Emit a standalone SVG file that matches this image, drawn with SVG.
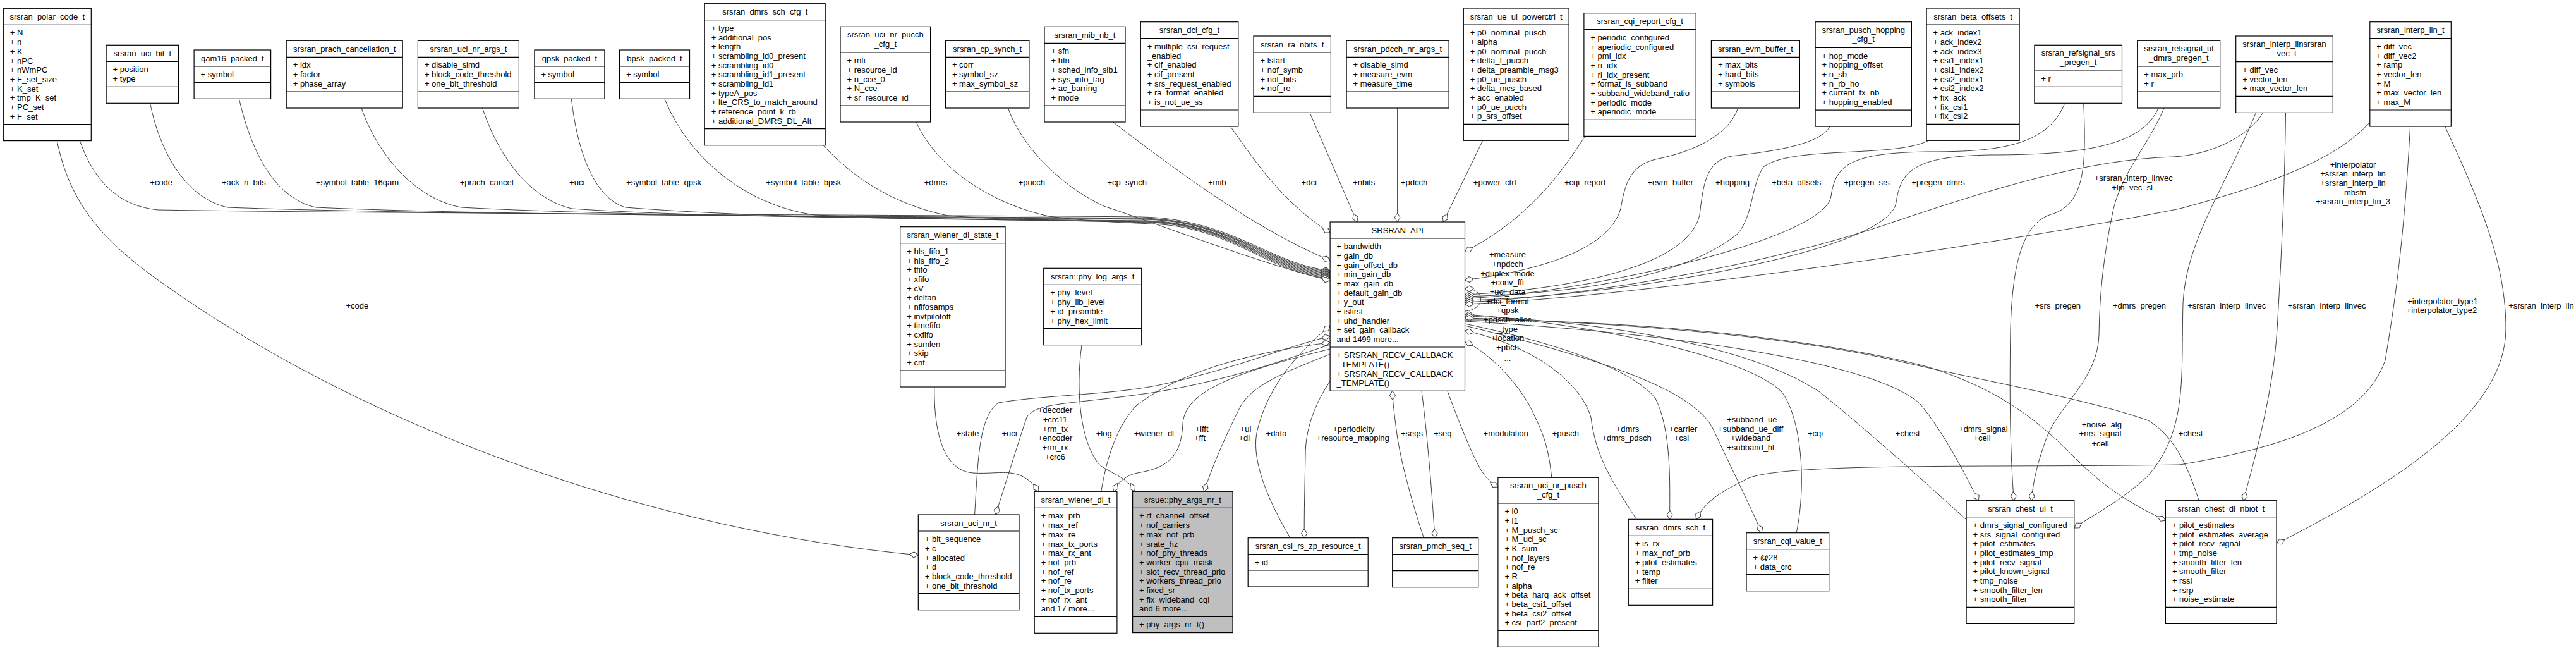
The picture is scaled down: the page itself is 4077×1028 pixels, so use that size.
<svg xmlns="http://www.w3.org/2000/svg" width="4077" height="1028" viewBox="0 0 4077 1028">
<style>
.b{fill:#fff;stroke:#000;stroke-width:1.2}
.g{fill:#bfbfbf}
.s{stroke:#000;stroke-width:1.2;fill:none}
text{font-family:"Liberation Sans",Arial,Helvetica,sans-serif;font-size:13px;fill:#000}
.c{text-anchor:middle}
.e{fill:none;stroke:#404040;stroke-width:1}
.d{marker-end:url(#dia)}
</style>
<defs>
<marker id="dia" viewBox="-16 -6 17 12" refX="0" refY="0" markerWidth="17" markerHeight="12" markerUnits="userSpaceOnUse" orient="auto">
<path d="M0,0 L-7,-4.5 L-14,0 L-7,4.5 Z" fill="#fff" stroke="#404040" stroke-width="1"/>
</marker>
</defs>
<rect width="4077" height="1028" fill="#fff"/>

<g id="connectors">
<path class="e d" d="M126.3,222.6 C150,290 190,326 250,332 C600,338 1500,340 1806,343 C1950,346 2010,418 2105.1,428"/>
<path class="e d" d="M237.6,163.3 C255,250 300,315 360,328 C700,341 1500,342 1808,345 C1950,348 2010,420 2105.1,429.5"/>
<path class="e d" d="M378.4,156.3 C400,250 440,315 500,328 C800,342 1500,343 1810,346 C1950,349 2010,422 2105.1,431"/>
<path class="e d" d="M572,171 C600,250 660,315 730,328 C1000,343 1500,344 1812,347 C1950,350 2010,424 2105.1,432.5"/>
<path class="e d" d="M763.6,171 C790,250 840,315 905,330 C1100,344 1500,346 1814,349 C1950,352 2010,426 2105.1,434"/>
<path class="e d" d="M904.4,156.3 C915,250 945,315 990,328 C1200,345 1500,347 1816,350 C1950,353 2010,428 2105.1,435.5"/>
<path class="e d" d="M1051.8,156.3 C1090,250 1180,325 1290,340 C1500,348 1700,349 1818,351 C1950,354 2010,430 2105.1,437"/>
<path class="e d" d="M1303,229.7 C1340,270 1400,320 1500,341 C1600,349 1750,350 1820,352 C1950,356 2010,432 2105.1,438.5"/>
<path class="e d" d="M1450.2,193 C1480,260 1560,320 1660,342 C1720,350 1780,352 1822,354 C1950,358 2010,434 2105.1,440"/>
<path class="e d" d="M1595.4,171 C1620,240 1690,300 1747,326 C1850,360 1980,412 2105.1,444"/>
<path class="e d" d="M1761.3,193 C1850,260 1980,360 2105.1,412"/>
<path class="e d" d="M1947.4,200 C1990,260 2030,320 2105.1,368"/>
<path class="e d" d="M2073,178.3 L2147.8,351"/>
<path class="e d" d="M2211.6,171 L2211.6,351"/>
<path class="e d" d="M2346.7,222.3 L2284.2,351"/>
<path class="e d" d="M2508.6,215.4 C2470,275 2420,345 2318.5,398"/>
<path class="e d" d="M2750.8,171 C2735,215 2680,240 2620,252 C2580,262 2572,290 2565,330 C2545,400 2420,430 2318.5,443"/>
<path class="e d" d="M2896,200.1 C2880,230 2800,240 2740,247 C2700,255 2696,290 2690,340 C2670,430 2450,460 2318.5,466"/>
<path class="e d" d="M3052,222.3 C3000,250 2830,230 2790,265 C2770,300 2775,340 2750,370 C2650,450 2450,465 2318.5,469"/>
<path class="e d" d="M3267.8,163.3 C3240,235 3150,240 3050,240 C2930,242 2905,260 2898,310 C2890,380 2500,465 2318.5,472"/>
<path class="e d" d="M3416,171 C3390,230 3300,245 3150,245 C3030,247 3008,270 3001,320 C2990,400 2550,470 2318.5,475"/>
<path class="e d" d="M3581.4,178.4 C3560,215 3500,245 3440,248 C3300,252 3150,300 3000,350 C2800,420 2500,470 2318.5,478"/>
<path class="e d" d="M3750.8,193.3 C3700,250 3600,290 3450,330 C3200,380 2600,470 2318.5,481"/>
<path class="e d" d="M2318.5,492 C2352,490 2352,455 2318.5,457"/>
<path class="e d" d="M2843.2,842.7 C2860,760 2850,660 2820,620 C2760,560 2500,510 2318.5,497"/>
<path class="e d" d="M3112.1,822 C3000,720 2930,660 2880,620 C2760,540 2500,505 2318.5,500"/>
<path class="e d" d="M3480.2,791.7 C3460,730 3440,690 3400,665 C3300,630 3150,605 3000,570 C2800,525 2500,508 2318.5,503"/>
<path class="e d" d="M2590,821.3 C2550,760 2525,720 2518,660 C2500,600 2420,545 2318.5,523"/>
<path class="e d" d="M2455.8,755.3 C2450,700 2440,680 2420,640 C2390,590 2350,555 2318.5,540"/>
<path class="e d" d="M2318.5,512 C2450,540 2580,580 2620,630 C2645,680 2643,760 2642.6,821.3"/>
<path class="e d" d="M2318.5,515 C2500,560 2680,610 2712,680 C2740,740 2770,800 2788.2,842.7"/>
<path class="e d" d="M2318.5,508 C2700,530 2980,580 3040,640 C3080,690 3110,750 3131.4,791.7"/>
<path class="e d" d="M2318.5,506 C2600,505 2900,540 3050,580 C3180,620 3240,680 3290,730 C3340,780 3390,805 3427.4,823.3"/>
<path class="e d" d="M90.2,222.6 C110,320 160,380 260,450 C600,690 1050,840 1453.3,878"/>
<path class="e d" d="M1478.8,612 C1478,700 1500,745 1540,748 C1585,751 1615,735 1643.8,777.3"/>
<path class="e d" d="M1542.6,814 C1548,720 1550,660 1580,637 C1650,625 1750,625 1830,610 C1950,585 2030,550 2105.1,531.7"/>
<path class="e d" d="M2105.1,545 C2030,570 1950,600 1830,620 C1700,640 1640,635 1625,660 C1605,720 1590,770 1575.6,814"/>
<path class="e d" d="M1742.8,777.3 C1752,720 1770,670 1800,640 C1880,580 2000,555 2105.1,541.7"/>
<path class="e d" d="M2105.1,552 C1950,590 1875,620 1872,670 C1870,720 1850,740 1800,748 C1780,752 1768,765 1762.6,777.3"/>
<path class="e d" d="M1712,545.6 C1702,620 1710,700 1740,735 C1760,750 1785,755 1795.6,777.3"/>
<path class="e d" d="M2105.1,560 C2030,590 1980,610 1962,645 C1945,680 1925,720 1905.6,777.3"/>
<path class="e d" d="M2042,850.7 C2000,780 1980,720 1990,680 C2005,620 2040,570 2105.1,515"/>
<path class="e d" d="M2105.1,603 C2080,640 2066,680 2066,720 C2065,770 2064,810 2064.2,850.7"/>
<path class="e d" d="M2253.4,850.7 C2230,780 2215,720 2210,680 C2206,650 2204,630 2203.7,618.3"/>
<path class="e d" d="M2250,618.3 C2258,680 2265,760 2271,850.7"/>
<path class="e d" d="M2290.8,618.3 C2310,670 2330,720 2345,745 C2355,760 2362,765 2370.9,770"/>
<path class="e d" d="M3814.6,200 C3805,380 3790,480 3775,570 C3740,670 3600,710 3450,735 C3150,740 2800,730 2760,760 C2730,775 2700,790 2684.6,821.3"/>
<path class="e d" d="M3869.6,200 C3930,330 3966,420 3966,520 C3966,650 3800,760 3603,860"/>
<path class="e d" d="M3617.5,178.4 C3616,300 3610,420 3604,520 C3598,620 3570,720 3550.6,791.7"/>
<path class="e d" d="M3570.4,178.4 C3520,300 3460,380 3455,480 C3452,600 3462,680 3400,752 C3360,790 3320,810 3282.8,835"/>
<path class="e d" d="M3297.7,163.3 C3302,260 3300,320 3250,338 C3200,350 3185,420 3182,520 C3180,640 3182,720 3187.3,791.7"/>
<path class="e d" d="M3425,171 C3400,230 3360,270 3345,330 C3330,400 3323,460 3322,530 C3320,600 3260,640 3240,690 C3225,730 3218,760 3215,791.7"/>

<g class="c">
<text x="255.2" y="293.2">+code</text>
<text x="385.9" y="293.2">+ack_ri_bits</text>
<text x="565.4" y="293.2">+symbol_table_16qam</text>
<text x="770.2" y="293.2">+prach_cancel</text>
<text x="913.2" y="293.2">+uci</text>
<text x="1050.5" y="293.2">+symbol_table_qpsk</text>
<text x="1271.8" y="293.2">+symbol_table_bpsk</text>
<text x="1481" y="293.2">+dmrs</text>
<text x="1632.8" y="293.2">+pucch</text>
<text x="1783.7" y="293.2">+cp_synch</text>
<text x="1926.3" y="293.2">+mib</text>
<text x="2071.7" y="293.2">+dci</text>
<text x="2158.8" y="293.2">+nbits</text>
<text x="2238" y="293.2">+pdcch</text>
<text x="2365.6" y="293.2">+power_ctrl</text>
<text x="2508.6" y="293.2">+cqi_report</text>
<text x="2643.7" y="293.2">+evm_buffer</text>
<text x="2742" y="293.2">+hopping</text>
<text x="2843.2" y="293.2">+beta_offsets</text>
<text x="2954.5" y="293.2">+pregen_srs</text>
<text x="3067.6" y="293.2">+pregen_dmrs</text>
<text x="3376.7" y="286.2">+srsran_interp_linvec</text>
<text x="3374.6" y="301.2">+lin_vec_sl</text>
<text x="3724" y="264.5">+interpolator</text>
<text x="3724" y="279.2">+srsran_interp_lin</text>
<text x="3724" y="293.8">+srsran_interp_lin</text>
<text x="3724" y="308.5">_mbsfn</text>
<text x="3724" y="323.2">+srsran_interp_lin_3</text>
<text x="565.4" y="487.8">+code</text>
<text x="3256.8" y="487.8">+srs_pregen</text>
<text x="3386" y="487.8">+dmrs_pregen</text>
<text x="3524.2" y="487.8">+srsran_interp_linvec</text>
<text x="3682.6" y="487.8">+srsran_interp_linvec</text>
<text x="3866" y="481.2">+interpolator_type1</text>
<text x="3864.4" y="495.2">+interpolator_type2</text>
<text x="4022" y="487.8">+srsran_interp_lin</text>
<text x="2386" y="407.2">+measure</text>
<text x="2386" y="421.8">+npdcch</text>
<text x="2386" y="436.8">+duplex_mode</text>
<text x="2386" y="451.2">+conv_fft</text>
<text x="2386" y="466.2">+uci_data</text>
<text x="2386" y="481.2">+dci_format</text>
<text x="2386" y="495.2">+qpsk</text>
<text x="2386" y="510.2">+pdsch_alloc</text>
<text x="2386" y="525.2">_type</text>
<text x="2386" y="539.2">+location</text>
<text x="2386" y="554.2">+pbch</text>
<text x="2386" y="571.2">...</text>
<text x="1531.6" y="690.2">+state</text>
<text x="1597.6" y="690.2">+uci</text>
<text x="1670" y="652.8">+decoder</text>
<text x="1670" y="667.8">+crc11</text>
<text x="1670" y="682.8">+rm_tx</text>
<text x="1670" y="697.2">+encoder</text>
<text x="1670" y="712.2">+rm_rx</text>
<text x="1670" y="727.2">+crc6</text>
<text x="1747.2" y="690.2">+log</text>
<text x="1826.4" y="690.2">+wiener_dl</text>
<text x="1902" y="682.8">+ifft</text>
<text x="1899" y="697.2">+fft</text>
<text x="1971.6" y="682.8">+ul</text>
<text x="1969.4" y="697.2">+dl</text>
<text x="2020" y="690.2">+data</text>
<text x="2142.5" y="682.8">+periodicity</text>
<text x="2141.2" y="697.2">+resource_mapping</text>
<text x="2234.5" y="690.2">+seqs</text>
<text x="2283.3" y="690.2">+seq</text>
<text x="2383.2" y="690.2">+modulation</text>
<text x="2477.8" y="690.2">+pusch</text>
<text x="2576" y="682.8">+dmrs</text>
<text x="2574.6" y="697.2">+dmrs_pdsch</text>
<text x="2664" y="682.8">+carrier</text>
<text x="2661.3" y="697.2">+csi</text>
<text x="2772.8" y="667.8">+subband_ue</text>
<text x="2770.6" y="682.8">+subband_ue_diff</text>
<text x="2770.6" y="697.2">+wideband</text>
<text x="2770.6" y="712.2">+subband_hl</text>
<text x="2873.1" y="690.2">+cqi</text>
<text x="3019.2" y="690.2">+chest</text>
<text x="3138.9" y="682.8">+dmrs_signal</text>
<text x="3137.1" y="697.2">+cell</text>
<text x="3326.3" y="675.5">+noise_alg</text>
<text x="3324" y="690.2">+nrs_signal</text>
<text x="3324" y="705.5">+cell</text>
<text x="3467" y="690.2">+chest</text>
</g>
</g>

<g id="n_polar" transform="translate(5.3,13.3)"><rect class="b" width="139" height="209.3"/><path class="s" d="M0,26H139M0,183.3H139"/><text class="c" x="69.5" y="17.5">srsran_polar_code_t</text>
<text y="43.2"><tspan x="10.5">+ N</tspan><tspan x="10.5" dy="14.67">+ n</tspan><tspan x="10.5" dy="14.67">+ K</tspan><tspan x="10.5" dy="14.67">+ nPC</tspan><tspan x="10.5" dy="14.67">+ nWmPC</tspan><tspan x="10.5" dy="14.67">+ F_set_size</tspan><tspan x="10.5" dy="14.67">+ K_set</tspan><tspan x="10.5" dy="14.67">+ tmp_K_set</tspan><tspan x="10.5" dy="14.67">+ PC_set</tspan><tspan x="10.5" dy="14.67">+ F_set</tspan></text></g>

<g id="n_uci_bit" transform="translate(168.1,71.3)"><rect class="b" width="114.4" height="92"/><path class="s" d="M0,26H114.4M0,66H114.4"/><text class="c" x="57.2" y="17.5">srsran_uci_bit_t</text>
<text y="43.2"><tspan x="10.5">+ position</tspan><tspan x="10.5" dy="14.67">+ type</tspan></text></g>

<g id="n_qam16" transform="translate(307.1,79)"><rect class="b" width="121.5" height="77.3"/><path class="s" d="M0,26H121.5M0,51.3H121.5"/><text class="c" x="60.75" y="17.5">qam16_packed_t</text>
<text x="10.5" y="43.2">+ symbol</text></g>

<g id="n_prach" transform="translate(453.2,64.3)"><rect class="b" width="184" height="106.7"/><path class="s" d="M0,26H184M0,80.7H184"/><text class="c" x="92" y="17.5">srsran_prach_cancellation_t</text>
<text y="43.2"><tspan x="10.5">+ idx</tspan><tspan x="10.5" dy="14.67">+ factor</tspan><tspan x="10.5" dy="14.67">+ phase_array</tspan></text></g>

<g id="n_uci_nr_args" transform="translate(661.4,64.3)"><rect class="b" width="160" height="106.7"/><path class="s" d="M0,26H160M0,80.7H160"/><text class="c" x="80" y="17.5">srsran_uci_nr_args_t</text>
<text y="43.2"><tspan x="10.5">+ disable_simd</tspan><tspan x="10.5" dy="14.67">+ block_code_threshold</tspan><tspan x="10.5" dy="14.67">+ one_bit_threshold</tspan></text></g>

<g id="n_qpsk" transform="translate(845.9,79)"><rect class="b" width="111" height="77.3"/><path class="s" d="M0,26H111M0,51.3H111"/><text class="c" x="55.5" y="17.5">qpsk_packed_t</text>
<text x="10.5" y="43.2">+ symbol</text></g>

<g id="n_bpsk" transform="translate(980.5,79)"><rect class="b" width="111" height="77.3"/><path class="s" d="M0,26H111M0,51.3H111"/><text class="c" x="55.5" y="17.5">bpsk_packed_t</text>
<text x="10.5" y="43.2">+ symbol</text></g>

<g id="n_dmrs_sch_cfg" transform="translate(1115.2,5.7)"><rect class="b" width="191" height="224"/><path class="s" d="M0,26H191M0,198H191"/><text class="c" x="95.5" y="17.5">srsran_dmrs_sch_cfg_t</text>
<text y="43.2"><tspan x="10.5">+ type</tspan><tspan x="10.5" dy="14.67">+ additional_pos</tspan><tspan x="10.5" dy="14.67">+ length</tspan><tspan x="10.5" dy="14.67">+ scrambling_id0_present</tspan><tspan x="10.5" dy="14.67">+ scrambling_id0</tspan><tspan x="10.5" dy="14.67">+ scrambling_id1_present</tspan><tspan x="10.5" dy="14.67">+ scrambling_id1</tspan><tspan x="10.5" dy="14.67">+ typeA_pos</tspan><tspan x="10.5" dy="14.67">+ lte_CRS_to_match_around</tspan><tspan x="10.5" dy="14.67">+ reference_point_k_rb</tspan><tspan x="10.5" dy="14.67">+ additional_DMRS_DL_Alt</tspan></text></g>

<g id="n_pucch_cfg" transform="translate(1330,42.3)"><rect class="b" width="142.6" height="150.7"/><path class="s" d="M0,40.7H142.6M0,124.7H142.6"/><text class="c" x="71.3" y="17">srsran_uci_nr_pucch</text><text class="c" x="71.3" y="31.5">_cfg_t</text>
<text y="57.9"><tspan x="10.5">+ rnti</tspan><tspan x="10.5" dy="14.67">+ resource_id</tspan><tspan x="10.5" dy="14.67">+ n_cce_0</tspan><tspan x="10.5" dy="14.67">+ N_cce</tspan><tspan x="10.5" dy="14.67">+ sr_resource_id</tspan></text></g>

<g id="n_cp_synch" transform="translate(1496.4,64.3)"><rect class="b" width="132.5" height="106.7"/><path class="s" d="M0,26H132.5M0,80.7H132.5"/><text class="c" x="66.25" y="17.5">srsran_cp_synch_t</text>
<text y="43.2"><tspan x="10.5">+ corr</tspan><tspan x="10.5" dy="14.67">+ symbol_sz</tspan><tspan x="10.5" dy="14.67">+ max_symbol_sz</tspan></text></g>

<g id="n_mib_nb" transform="translate(1653,42.3)"><rect class="b" width="128" height="150.7"/><path class="s" d="M0,26H128M0,124.7H128"/><text class="c" x="64" y="17.5">srsran_mib_nb_t</text>
<text y="43.2"><tspan x="10.5">+ sfn</tspan><tspan x="10.5" dy="14.67">+ hfn</tspan><tspan x="10.5" dy="14.67">+ sched_info_sib1</tspan><tspan x="10.5" dy="14.67">+ sys_info_tag</tspan><tspan x="10.5" dy="14.67">+ ac_barring</tspan><tspan x="10.5" dy="14.67">+ mode</tspan></text></g>

<g id="n_dci_cfg" transform="translate(1805.3,34.7)"><rect class="b" width="154.5" height="165.3"/><path class="s" d="M0,26H154.5M0,139.3H154.5"/><text class="c" x="77.25" y="17.5">srsran_dci_cfg_t</text>
<text y="43.2"><tspan x="10.5">+ multiple_csi_request</tspan><tspan x="10.5" dy="14.67">_enabled</tspan><tspan x="10.5" dy="14.67">+ cif_enabled</tspan><tspan x="10.5" dy="14.67">+ cif_present</tspan><tspan x="10.5" dy="14.67">+ srs_request_enabled</tspan><tspan x="10.5" dy="14.67">+ ra_format_enabled</tspan><tspan x="10.5" dy="14.67">+ is_not_ue_ss</tspan></text></g>

<g id="n_wiener_state" transform="translate(1424.7,358.7)"><rect class="b" width="166.3" height="253.3"/><path class="s" d="M0,26H166.3M0,227.3H166.3"/><text class="c" x="83.15" y="17.5">srsran_wiener_dl_state_t</text>
<text y="43.2"><tspan x="10.5">+ hls_fifo_1</tspan><tspan x="10.5" dy="14.67">+ hls_fifo_2</tspan><tspan x="10.5" dy="14.67">+ tfifo</tspan><tspan x="10.5" dy="14.67">+ xfifo</tspan><tspan x="10.5" dy="14.67">+ cV</tspan><tspan x="10.5" dy="14.67">+ deltan</tspan><tspan x="10.5" dy="14.67">+ nfifosamps</tspan><tspan x="10.5" dy="14.67">+ invtpilotoff</tspan><tspan x="10.5" dy="14.67">+ timefifo</tspan><tspan x="10.5" dy="14.67">+ cxfifo</tspan><tspan x="10.5" dy="14.67">+ sumlen</tspan><tspan x="10.5" dy="14.67">+ skip</tspan><tspan x="10.5" dy="14.67">+ cnt</tspan></text></g>

<g id="n_phy_log" transform="translate(1651.7,424.3)"><rect class="b" width="155" height="121.3"/><path class="s" d="M0,26H155M0,95.3H155"/><text class="c" x="77.5" y="17.5">srsran::phy_log_args_t</text>
<text y="43.2"><tspan x="10.5">+ phy_level</tspan><tspan x="10.5" dy="14.67">+ phy_lib_level</tspan><tspan x="10.5" dy="14.67">+ id_preamble</tspan><tspan x="10.5" dy="14.67">+ phy_hex_limit</tspan></text></g>

<g id="n_ra_nbits" transform="translate(1984,57)"><rect class="b" width="122.4" height="121.3"/><path class="s" d="M0,26H122.4M0,95.3H122.4"/><text class="c" x="61.2" y="17.5">srsran_ra_nbits_t</text>
<text y="43.2"><tspan x="10.5">+ lstart</tspan><tspan x="10.5" dy="14.67">+ nof_symb</tspan><tspan x="10.5" dy="14.67">+ nof_bits</tspan><tspan x="10.5" dy="14.67">+ nof_re</tspan></text></g>

<g id="n_pdcch_args" transform="translate(2131.1,64.3)"><rect class="b" width="162" height="106.7"/><path class="s" d="M0,26H162M0,80.7H162"/><text class="c" x="81" y="17.5">srsran_pdcch_nr_args_t</text>
<text y="43.2"><tspan x="10.5">+ disable_simd</tspan><tspan x="10.5" dy="14.67">+ measure_evm</tspan><tspan x="10.5" dy="14.67">+ measure_time</tspan></text></g>

<g id="n_powerctrl" transform="translate(2316.3,13)"><rect class="b" width="166.8" height="209.3"/><path class="s" d="M0,26H166.8M0,183.3H166.8"/><text class="c" x="83.4" y="17.5">srsran_ue_ul_powerctrl_t</text>
<text y="43.2"><tspan x="10.5">+ p0_nominal_pusch</tspan><tspan x="10.5" dy="14.67">+ alpha</tspan><tspan x="10.5" dy="14.67">+ p0_nominal_pucch</tspan><tspan x="10.5" dy="14.67">+ delta_f_pucch</tspan><tspan x="10.5" dy="14.67">+ delta_preamble_msg3</tspan><tspan x="10.5" dy="14.67">+ p0_ue_pusch</tspan><tspan x="10.5" dy="14.67">+ delta_mcs_based</tspan><tspan x="10.5" dy="14.67">+ acc_enabled</tspan><tspan x="10.5" dy="14.67">+ p0_ue_pucch</tspan><tspan x="10.5" dy="14.67">+ p_srs_offset</tspan></text></g>

<g id="n_cqi_report" transform="translate(2506.9,20.7)"><rect class="b" width="177.3" height="194.7"/><path class="s" d="M0,26H177.3M0,168.7H177.3"/><text class="c" x="88.65" y="17.5">srsran_cqi_report_cfg_t</text>
<text y="43.2"><tspan x="10.5">+ periodic_configured</tspan><tspan x="10.5" dy="14.67">+ aperiodic_configured</tspan><tspan x="10.5" dy="14.67">+ pmi_idx</tspan><tspan x="10.5" dy="14.67">+ ri_idx</tspan><tspan x="10.5" dy="14.67">+ ri_idx_present</tspan><tspan x="10.5" dy="14.67">+ format_is_subband</tspan><tspan x="10.5" dy="14.67">+ subband_wideband_ratio</tspan><tspan x="10.5" dy="14.67">+ periodic_mode</tspan><tspan x="10.5" dy="14.67">+ aperiodic_mode</tspan></text></g>

<g id="n_api" transform="translate(2105.1,351)"><rect class="b" width="213.4" height="267.3"/><path class="s" d="M0,26H213.4M0,198H213.4"/><text class="c" x="106.7" y="17.5">SRSRAN_API</text>
<text y="43.2"><tspan x="10.5">+ bandwidth</tspan><tspan x="10.5" dy="14.67">+ gain_db</tspan><tspan x="10.5" dy="14.67">+ gain_offset_db</tspan><tspan x="10.5" dy="14.67">+ min_gain_db</tspan><tspan x="10.5" dy="14.67">+ max_gain_db</tspan><tspan x="10.5" dy="14.67">+ default_gain_db</tspan><tspan x="10.5" dy="14.67">+ y_out</tspan><tspan x="10.5" dy="14.67">+ isfirst</tspan><tspan x="10.5" dy="14.67">+ uhd_handler</tspan><tspan x="10.5" dy="14.67">+ set_gain_callback</tspan><tspan x="10.5" dy="14.67">and 1499 more...</tspan></text>
<text y="215.2"><tspan x="10.5">+ SRSRAN_RECV_CALLBACK</tspan><tspan x="10.5" dy="14.67">_TEMPLATE()</tspan><tspan x="10.5" dy="14.67">+ SRSRAN_RECV_CALLBACK</tspan><tspan x="10.5" dy="14.67">_TEMPLATE()</tspan></text></g>

<g id="n_evm" transform="translate(2708.4,64.3)"><rect class="b" width="140" height="106.7"/><path class="s" d="M0,26H140M0,80.7H140"/><text class="c" x="70" y="17.5">srsran_evm_buffer_t</text>
<text y="43.2"><tspan x="10.5">+ max_bits</tspan><tspan x="10.5" dy="14.67">+ hard_bits</tspan><tspan x="10.5" dy="14.67">+ symbols</tspan></text></g>

<g id="n_hopping" transform="translate(2873.1,34.7)"><rect class="b" width="152.3" height="165.4"/><path class="s" d="M0,40.7H152.3M0,139.4H152.3"/><text class="c" x="76.15" y="17">srsran_pusch_hopping</text><text class="c" x="76.15" y="31.5">_cfg_t</text>
<text y="57.9"><tspan x="10.5">+ hop_mode</tspan><tspan x="10.5" dy="14.67">+ hopping_offset</tspan><tspan x="10.5" dy="14.67">+ n_sb</tspan><tspan x="10.5" dy="14.67">+ n_rb_ho</tspan><tspan x="10.5" dy="14.67">+ current_tx_nb</tspan><tspan x="10.5" dy="14.67">+ hopping_enabled</tspan></text></g>

<g id="n_beta" transform="translate(3049.1,13)"><rect class="b" width="147" height="209.3"/><path class="s" d="M0,26H147M0,183.3H147"/><text class="c" x="73.5" y="17.5">srsran_beta_offsets_t</text>
<text y="43.2"><tspan x="10.5">+ ack_index1</tspan><tspan x="10.5" dy="14.67">+ ack_index2</tspan><tspan x="10.5" dy="14.67">+ ack_index3</tspan><tspan x="10.5" dy="14.67">+ csi1_index1</tspan><tspan x="10.5" dy="14.67">+ csi1_index2</tspan><tspan x="10.5" dy="14.67">+ csi2_index1</tspan><tspan x="10.5" dy="14.67">+ csi2_index2</tspan><tspan x="10.5" dy="14.67">+ fix_ack</tspan><tspan x="10.5" dy="14.67">+ fix_csi1</tspan><tspan x="10.5" dy="14.67">+ fix_csi2</tspan></text></g>

<g id="n_srs_pregen" transform="translate(3219.9,71.3)"><rect class="b" width="138.6" height="92"/><path class="s" d="M0,40.7H138.6M0,66H138.6"/><text class="c" x="69.3" y="17">srsran_refsignal_srs</text><text class="c" x="69.3" y="31.5">_pregen_t</text>
<text x="10.5" y="57.9">+ r</text></g>

<g id="n_ul_dmrs_pregen" transform="translate(3382.7,64.3)"><rect class="b" width="131" height="106.7"/><path class="s" d="M0,40.7H131M0,80.7H131"/><text class="c" x="65.5" y="17">srsran_refsignal_ul</text><text class="c" x="65.5" y="31.5">_dmrs_pregen_t</text>
<text y="57.9"><tspan x="10.5">+ max_prb</tspan><tspan x="10.5" dy="14.67">+ r</tspan></text></g>

<g id="n_interp_vec" transform="translate(3538.7,57)"><rect class="b" width="153.6" height="121.4"/><path class="s" d="M0,40.7H153.6M0,95.4H153.6"/><text class="c" x="76.8" y="17">srsran_interp_linsrsran</text><text class="c" x="76.8" y="31.5">_vec_t</text>
<text y="57.9"><tspan x="10.5">+ diff_vec</tspan><tspan x="10.5" dy="14.67">+ vector_len</tspan><tspan x="10.5" dy="14.67">+ max_vector_len</tspan></text></g>

<g id="n_interp_lin" transform="translate(3750.8,34.7)"><rect class="b" width="128.5" height="165.3"/><path class="s" d="M0,26H128.5M0,139.3H128.5"/><text class="c" x="64.25" y="17.5">srsran_interp_lin_t</text>
<text y="43.2"><tspan x="10.5">+ diff_vec</tspan><tspan x="10.5" dy="14.67">+ diff_vec2</tspan><tspan x="10.5" dy="14.67">+ ramp</tspan><tspan x="10.5" dy="14.67">+ vector_len</tspan><tspan x="10.5" dy="14.67">+ M</tspan><tspan x="10.5" dy="14.67">+ max_vector_len</tspan><tspan x="10.5" dy="14.67">+ max_M</tspan></text></g>

<g id="n_uci_nr" transform="translate(1453.3,814)"><rect class="b" width="159.7" height="150.7"/><path class="s" d="M0,26H159.7M0,124.7H159.7"/><text class="c" x="79.85" y="17.5">srsran_uci_nr_t</text>
<text y="43.2"><tspan x="10.5">+ bit_sequence</tspan><tspan x="10.5" dy="14.67">+ c</tspan><tspan x="10.5" dy="14.67">+ allocated</tspan><tspan x="10.5" dy="14.67">+ d</tspan><tspan x="10.5" dy="14.67">+ block_code_threshold</tspan><tspan x="10.5" dy="14.67">+ one_bit_threshold</tspan></text></g>

<g id="n_wiener_dl" transform="translate(1637.2,777.3)"><rect class="b" width="130.7" height="224"/><path class="s" d="M0,26H130.7M0,198H130.7"/><text class="c" x="65.35" y="17.5">srsran_wiener_dl_t</text>
<text y="43.2"><tspan x="10.5">+ max_prb</tspan><tspan x="10.5" dy="14.67">+ max_ref</tspan><tspan x="10.5" dy="14.67">+ max_re</tspan><tspan x="10.5" dy="14.67">+ max_tx_ports</tspan><tspan x="10.5" dy="14.67">+ max_rx_ant</tspan><tspan x="10.5" dy="14.67">+ nof_prb</tspan><tspan x="10.5" dy="14.67">+ nof_ref</tspan><tspan x="10.5" dy="14.67">+ nof_re</tspan><tspan x="10.5" dy="14.67">+ nof_tx_ports</tspan><tspan x="10.5" dy="14.67">+ nof_rx_ant</tspan><tspan x="10.5" dy="14.67">and 17 more...</tspan></text></g>

<g id="n_phy_args" transform="translate(1792.6,777.3)"><rect class="b g" width="158.4" height="223.3"/><path class="s" d="M0,26H158.4M0,198H158.4"/><text class="c" x="79.2" y="17.5">srsue::phy_args_nr_t</text>
<text y="43.2"><tspan x="10.5">+ rf_channel_offset</tspan><tspan x="10.5" dy="14.67">+ nof_carriers</tspan><tspan x="10.5" dy="14.67">+ max_nof_prb</tspan><tspan x="10.5" dy="14.67">+ srate_hz</tspan><tspan x="10.5" dy="14.67">+ nof_phy_threads</tspan><tspan x="10.5" dy="14.67">+ worker_cpu_mask</tspan><tspan x="10.5" dy="14.67">+ slot_recv_thread_prio</tspan><tspan x="10.5" dy="14.67">+ workers_thread_prio</tspan><tspan x="10.5" dy="14.67">+ fixed_sr</tspan><tspan x="10.5" dy="14.67">+ fix_wideband_cqi</tspan><tspan x="10.5" dy="14.67">and 6 more...</tspan></text>
<text x="10.5" y="215.2">+ phy_args_nr_t()</text></g>

<g id="n_csi_rs" transform="translate(1975.2,850.7)"><rect class="b" width="190" height="77.3"/><path class="s" d="M0,26H190M0,51.3H190"/><text class="c" x="95" y="17.5">srsran_csi_rs_zp_resource_t</text>
<text x="10.5" y="43.2">+ id</text></g>

<g id="n_pmch" transform="translate(2203.7,850.7)"><rect class="b" width="136" height="78"/><path class="s" d="M0,26H136M0,52H136"/><text class="c" x="68" y="17.5">srsran_pmch_seq_t</text></g>

<g id="n_pusch_cfg" transform="translate(2370.9,755.3)"><rect class="b" width="159" height="268"/><path class="s" d="M0,40.7H159M0,242H159"/><text class="c" x="79.5" y="17">srsran_uci_nr_pusch</text><text class="c" x="79.5" y="31.5">_cfg_t</text>
<text y="57.9"><tspan x="10.5">+ l0</tspan><tspan x="10.5" dy="14.67">+ l1</tspan><tspan x="10.5" dy="14.67">+ M_pusch_sc</tspan><tspan x="10.5" dy="14.67">+ M_uci_sc</tspan><tspan x="10.5" dy="14.67">+ K_sum</tspan><tspan x="10.5" dy="14.67">+ nof_layers</tspan><tspan x="10.5" dy="14.67">+ nof_re</tspan><tspan x="10.5" dy="14.67">+ R</tspan><tspan x="10.5" dy="14.67">+ alpha</tspan><tspan x="10.5" dy="14.67">+ beta_harq_ack_offset</tspan><tspan x="10.5" dy="14.67">+ beta_csi1_offset</tspan><tspan x="10.5" dy="14.67">+ beta_csi2_offset</tspan><tspan x="10.5" dy="14.67">+ csi_part2_present</tspan></text></g>

<g id="n_dmrs_sch" transform="translate(2577.3,821.3)"><rect class="b" width="133.3" height="136"/><path class="s" d="M0,26H133.3M0,110H133.3"/><text class="c" x="66.65" y="17.5">srsran_dmrs_sch_t</text>
<text y="43.2"><tspan x="10.5">+ is_rx</tspan><tspan x="10.5" dy="14.67">+ max_nof_prb</tspan><tspan x="10.5" dy="14.67">+ pilot_estimates</tspan><tspan x="10.5" dy="14.67">+ temp</tspan><tspan x="10.5" dy="14.67">+ filter</tspan></text></g>

<g id="n_cqi_value" transform="translate(2764,842.7)"><rect class="b" width="130.7" height="92"/><path class="s" d="M0,26H130.7M0,66H130.7"/><text class="c" x="65.35" y="17.5">srsran_cqi_value_t</text>
<text y="43.2"><tspan x="10.5">+ @28</tspan><tspan x="10.5" dy="14.67">+ data_crc</tspan></text></g>

<g id="n_chest_ul" transform="translate(3112.1,791.7)"><rect class="b" width="170.7" height="194.7"/><path class="s" d="M0,26H170.7M0,168.7H170.7"/><text class="c" x="85.35" y="17.5">srsran_chest_ul_t</text>
<text y="43.2"><tspan x="10.5">+ dmrs_signal_configured</tspan><tspan x="10.5" dy="14.67">+ srs_signal_configured</tspan><tspan x="10.5" dy="14.67">+ pilot_estimates</tspan><tspan x="10.5" dy="14.67">+ pilot_estimates_tmp</tspan><tspan x="10.5" dy="14.67">+ pilot_recv_signal</tspan><tspan x="10.5" dy="14.67">+ pilot_known_signal</tspan><tspan x="10.5" dy="14.67">+ tmp_noise</tspan><tspan x="10.5" dy="14.67">+ smooth_filter_len</tspan><tspan x="10.5" dy="14.67">+ smooth_filter</tspan></text></g>

<g id="n_chest_nbiot" transform="translate(3427.4,791.7)"><rect class="b" width="175.6" height="194.7"/><path class="s" d="M0,26H175.6M0,168.7H175.6"/><text class="c" x="87.8" y="17.5">srsran_chest_dl_nbiot_t</text>
<text y="43.2"><tspan x="10.5">+ pilot_estimates</tspan><tspan x="10.5" dy="14.67">+ pilot_estimates_average</tspan><tspan x="10.5" dy="14.67">+ pilot_recv_signal</tspan><tspan x="10.5" dy="14.67">+ tmp_noise</tspan><tspan x="10.5" dy="14.67">+ smooth_filter_len</tspan><tspan x="10.5" dy="14.67">+ smooth_filter</tspan><tspan x="10.5" dy="14.67">+ rssi</tspan><tspan x="10.5" dy="14.67">+ rsrp</tspan><tspan x="10.5" dy="14.67">+ noise_estimate</tspan></text></g>
</svg>
